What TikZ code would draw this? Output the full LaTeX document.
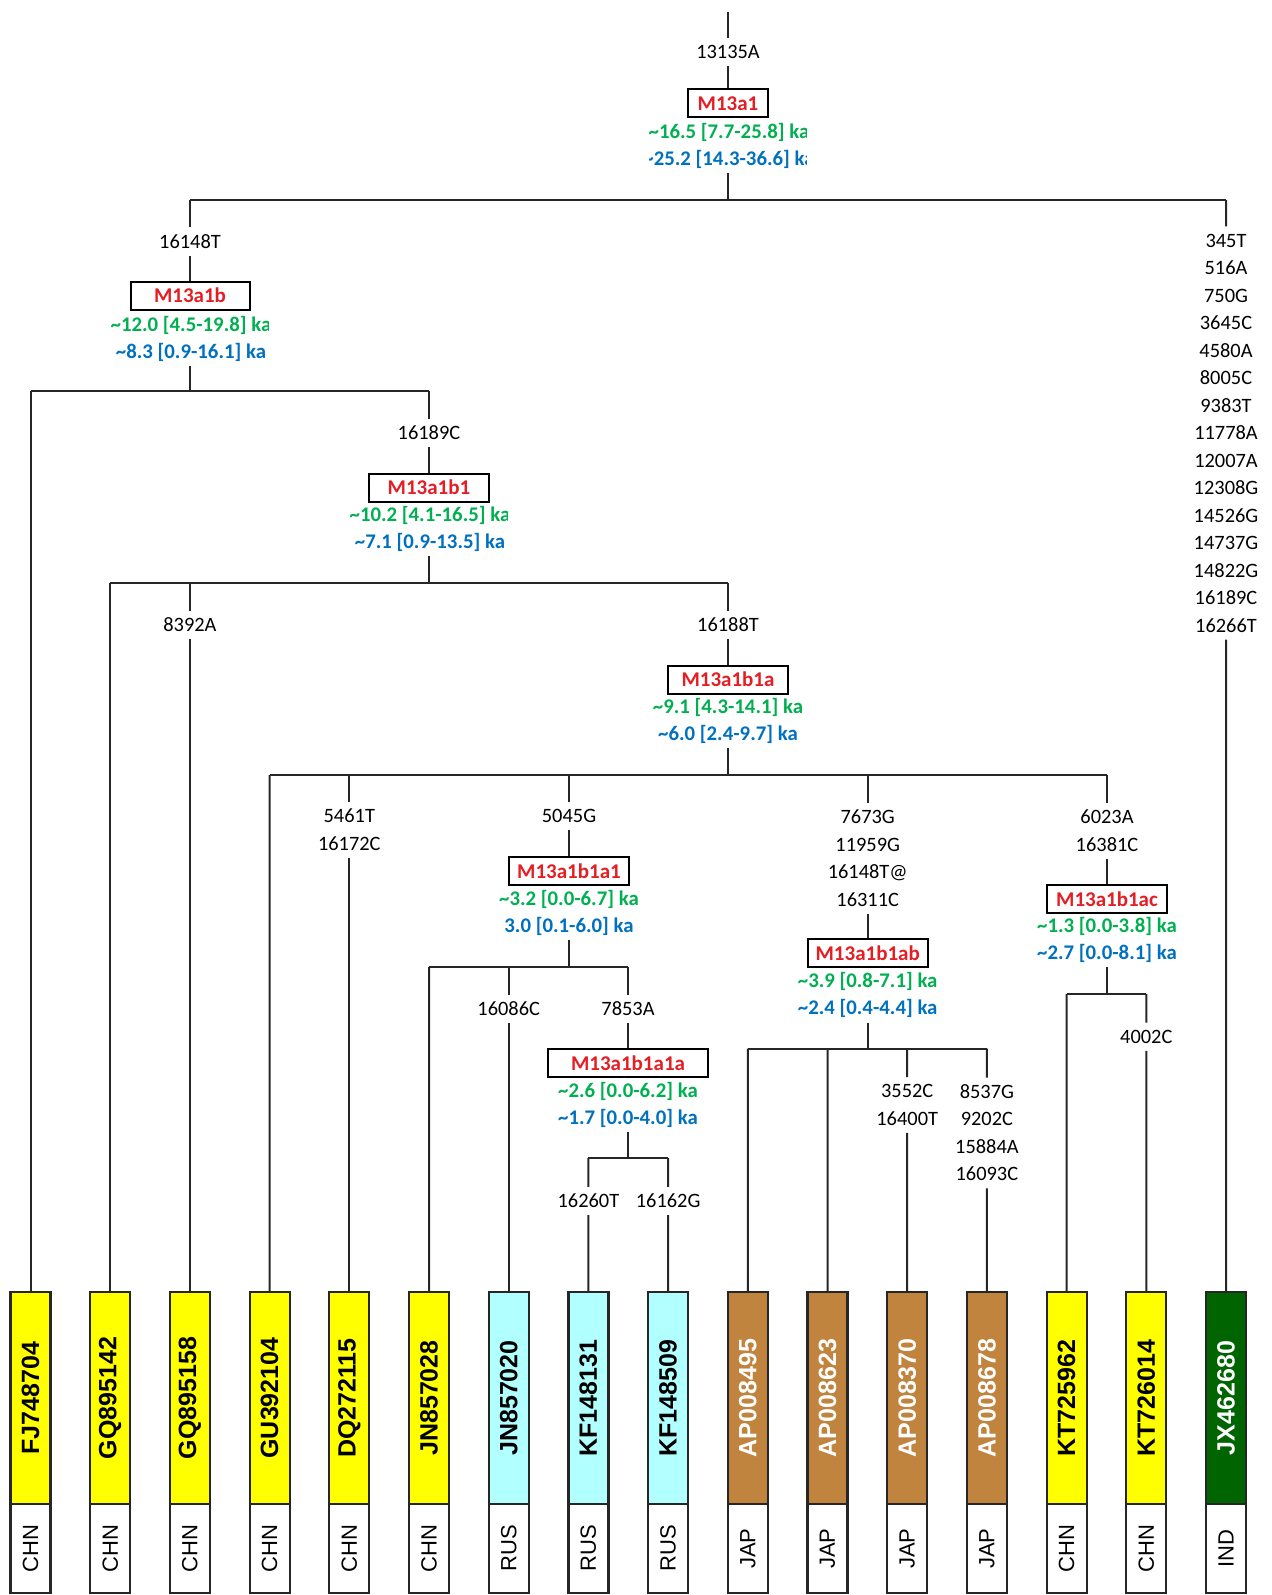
\documentclass[tikz,border=0pt]{standalone}
\usepackage{fontspec}
\setmainfont{Carlito}
\newfontfamily\arialf{Liberation Sans}
\definecolor{hred}{RGB}{228,30,36}
\definecolor{agegreen}{RGB}{0,176,80}
\definecolor{ageblue}{RGB}{0,112,192}
\definecolor{tipyellow}{RGB}{255,255,0}
\definecolor{tipcyan}{RGB}{178,255,255}
\definecolor{tipbrown}{RGB}{192,132,62}
\definecolor{tipgreen}{RGB}{0,100,0}
\newcommand\mst{\rule[-3.6pt]{0pt}{13.75pt}}
\newcommand\agst{\rule[-3.7pt]{0pt}{13.5pt}}
\newcommand\agetxt[2]{\agst{\color{agegreen}\textasciitilde#1 ka}\\\agst{\color{ageblue}#2 ka}}
\tikzset{
  br/.style={line width=1pt, black!85},
  mut/.style={inner sep=0pt, align=center, font=\fontsize{10.2}{13.75}\selectfont},
  hap/.style={draw, line width=1pt, fill=white, inner sep=0pt, minimum height=14pt, text=hred, font=\bfseries\fontsize{10.5}{12}\selectfont},
  age/.style={inner sep=0pt, align=center, font=\bfseries\fontsize{10.4}{13.5}\selectfont},
  tipbox/.style={draw, line width=1.1pt, draw=black!85, rotate=90, minimum width=106pt, minimum height=20pt, inner sep=0pt, font=\arialf\bfseries\fontsize{12.5}{12.5}\selectfont},
  ctry/.style={draw, line width=1.1pt, draw=black!85, fill=white, rotate=90, minimum width=44.5pt, minimum height=20pt, inner sep=0pt, font=\arialf\fontsize{11}{11}\selectfont},
}
\begin{document}
\begin{tikzpicture}[x=0.5pt, y=-0.5pt]
\useasboundingbox (0,0) rectangle (1271,1595);

% ---------- tips ----------
\foreach \i/\id/\col/\tc/\ct in {
  1/FJ748704/tipyellow/black/CHN,
  2/GQ895142/tipyellow/black/CHN,
  3/GQ895158/tipyellow/black/CHN,
  4/GU392104/tipyellow/black/CHN,
  5/DQ272115/tipyellow/black/CHN,
  6/JN857028/tipyellow/black/CHN,
  7/JN857020/tipcyan/black/RUS,
  8/KF148131/tipcyan/black/RUS,
  9/KF148509/tipcyan/black/RUS,
  10/AP008495/tipbrown/white/JAP,
  11/AP008623/tipbrown/white/JAP,
  12/AP008370/tipbrown/white/JAP,
  13/AP008678/tipbrown/white/JAP,
  14/KT725962/tipyellow/black/CHN,
  15/KT726014/tipyellow/black/CHN,
  16/JX462680/tipgreen/white/IND}{
  \pgfmathsetmacro\tx{30.5+79.7*(\i-1)}
  \node[tipbox, fill=\col, text=\tc] (t\i) at (\tx,1398) {\id};
  \node[ctry] (c\i) at (\tx,1548.5) {\ct};
}

% ---------- root ----------
\coordinate (top) at (728,12);
\node[mut] (m0) at (728,52) {\mst 13135A};
\node[hap, minimum width=40pt] (h0) at (728,103.5) {M13a1};
\begin{scope}
  \clip (649,110) rectangle (806,185);
  \node[age] (a0) at (729,146) {\agetxt{16.5 [7.7-25.8]}{\textasciitilde25.2 [14.3-36.6]}};
\end{scope}
\coordinate (j0) at (728,200);
\coordinate (j0L) at (190,200);
\coordinate (j0R) at (1226,200);
\draw[br] (top) -- (m0) -- (h0);
\draw[br] (a0.south -| j0) -- (j0);
\draw[br] (j0L) -- (j0R);

% ---------- right: JX462680 ----------
\node[mut] (mR) at (1226,433) {\mst 345T\\\mst 516A\\\mst 750G\\\mst 3645C\\\mst 4580A\\\mst 8005C\\\mst 9383T\\\mst 11778A\\\mst 12007A\\\mst 12308G\\\mst 14526G\\\mst 14737G\\\mst 14822G\\\mst 16189C\\\mst 16266T};
\draw[br] (j0R) -- (mR) -- (t16);

% ---------- M13a1b ----------
\node[mut] (m1) at (190,241.5) {\mst 16148T};
\node[hap, minimum width=59.5pt] (h1) at (190,295.5) {M13a1b};
\begin{scope}
  \clip (110,310) rectangle (268,370);
  \node[age] (a1) at (191,338.5) {\agetxt{12.0 [4.5-19.8]}{\textasciitilde8.3 [0.9-16.1]}};
\end{scope}
\coordinate (j1) at (190,391);
\coordinate (j1L) at (30.5,391);
\coordinate (j1R) at (429,391);
\draw[br] (j0L) -- (m1) -- (h1);
\draw[br] (a1.south -| j1) -- (j1);
\draw[br] (j1L) -- (j1R);
\draw[br] (j1L) -- (t1);

% ---------- M13a1b1 ----------
\node[mut] (m2) at (429,433) {\mst 16189C};
\node[hap, minimum width=60pt] (h2) at (429,487.5) {M13a1b1};
\begin{scope}
  \clip (349,502) rectangle (507,560);
  \node[age] (a2) at (430,529) {\agetxt{10.2 [4.1-16.5]}{\textasciitilde7.1 [0.9-13.5]}};
\end{scope}
\coordinate (j2) at (429,583);
\coordinate (j2L) at (110.2,583);
\coordinate (j2M) at (189.9,583);
\coordinate (j2R) at (728,583);
\draw[br] (j1R) -- (m2) -- (h2);
\draw[br] (a2.south -| j2) -- (j2);
\draw[br] (j2L) -- (j2R);
\draw[br] (j2L) -- (t2);
\node[mut] (m3) at (189.9,625) {\mst 8392A};
\draw[br] (j2M) -- (m3) -- (t3);

% ---------- M13a1b1a ----------
\node[mut] (m4) at (728,625) {\mst 16188T};
\node[hap, minimum width=60pt] (h4) at (728,679.5) {M13a1b1a};
\node[age] (a4) at (728,720.5) {\agetxt{9.1 [4.3-14.1]}{\textasciitilde6.0 [2.4-9.7]}};
\coordinate (j4) at (728,775);
\coordinate (j4L) at (269.6,775);
\coordinate (j4a) at (349.3,775);
\coordinate (j4b) at (569,775);
\coordinate (j4c) at (867.7,775);
\coordinate (j4R) at (1107,775);
\draw[br] (j2R) -- (m4) -- (h4);
\draw[br] (a4) -- (j4);
\draw[br] (j4L) -- (j4R);
\draw[br] (j4L) -- (t4);
\node[mut] (m5) at (349.3,829.8) {\mst 5461T\\\mst 16172C};
\draw[br] (j4a) -- (m5) -- (t5);

% ---------- M13a1b1a1 ----------
\node[mut] (m6) at (569,816) {\mst 5045G};
\node[hap, minimum width=60pt] (h6) at (569,871) {M13a1b1a1};
\node[age] (a6) at (569,913) {\agetxt{3.2 [0.0-6.7]}{3.0 [0.1-6.0]}};
\coordinate (j6) at (569,967);
\coordinate (j6L) at (429,967);
\coordinate (j6M) at (508.7,967);
\coordinate (j6R) at (628,967);
\draw[br] (j4b) -- (m6) -- (h6);
\draw[br] (a6) -- (j6);
\draw[br] (j6L) -- (j6R);
\draw[br] (j6L) -- (t6);
\node[mut] (m7) at (508.7,1009) {\mst 16086C};
\draw[br] (j6M) -- (m7) -- (t7);

% ---------- M13a1b1a1a ----------
\node[mut] (m8) at (628,1009) {\mst 7853A};
\node[hap, minimum width=80pt] (h8) at (628,1063) {M13a1b1a1a};
\node[age] (a8) at (628,1104.5) {\agetxt{2.6 [0.0-6.2]}{\textasciitilde1.7 [0.0-4.0]}};
\coordinate (j8) at (628,1158);
\coordinate (j8L) at (588.4,1158);
\coordinate (j8R) at (668.1,1158);
\draw[br] (j6R) -- (m8) -- (h8);
\draw[br] (a8) -- (j8);
\draw[br] (j8L) -- (j8R);
\node[mut] (m9) at (588.4,1201) {\mst 16260T};
\node[mut] (m10) at (668.1,1201) {\mst 16162G};
\draw[br] (j8L) -- (m9) -- (t8);
\draw[br] (j8R) -- (m10) -- (t9);

% ---------- M13a1b1ab ----------
\node[mut] (m11) at (867.7,858.3) {\mst 7673G\\\mst 11959G\\\mst 16148T@\\\mst 16311C};
\node[hap, minimum width=60pt] (h11) at (867.7,953) {M13a1b1ab};
\node[age] (a11) at (867.7,995.3) {\agetxt{3.9 [0.8-7.1]}{\textasciitilde2.4 [0.4-4.4]}};
\coordinate (j11) at (867.7,1048.5);
\coordinate (j11L) at (747.8,1048.5);
\coordinate (j11a) at (827.5,1048.5);
\coordinate (j11b) at (907.2,1048.5);
\coordinate (j11R) at (986.9,1048.5);
\draw[br] (j4c) -- (m11) -- (h11);
\draw[br] (a11) -- (j11);
\draw[br] (j11L) -- (j11R);
\draw[br] (j11L) -- (t10);
\draw[br] (j11a) -- (t11);
\node[mut] (m12) at (907.2,1105) {\mst 3552C\\\mst 16400T};
\node[mut] (m13) at (986.9,1132.9) {\mst 8537G\\\mst 9202C\\\mst 15884A\\\mst 16093C};
\draw[br] (j11b) -- (m12) -- (t12);
\draw[br] (j11R) -- (m13) -- (t13);

% ---------- M13a1b1ac ----------
\node[mut] (m14) at (1107,830.8) {\mst 6023A\\\mst 16381C};
\node[hap, minimum width=60pt] (h14) at (1107,899) {M13a1b1ac};
\node[age] (a14) at (1107,940) {\agetxt{1.3 [0.0-3.8]}{\textasciitilde2.7 [0.0-8.1]}};
\coordinate (j14) at (1107,994);
\coordinate (j14L) at (1066.6,994);
\coordinate (j14R) at (1146.3,994);
\draw[br] (j4R) -- (m14) -- (h14);
\draw[br] (a14) -- (j14);
\draw[br] (j14L) -- (j14R);
\draw[br] (j14L) -- (t14);
\node[mut] (m15) at (1146.3,1036.7) {\mst 4002C};
\draw[br] (j14R) -- (m15) -- (t15);
\end{tikzpicture}
\end{document}
